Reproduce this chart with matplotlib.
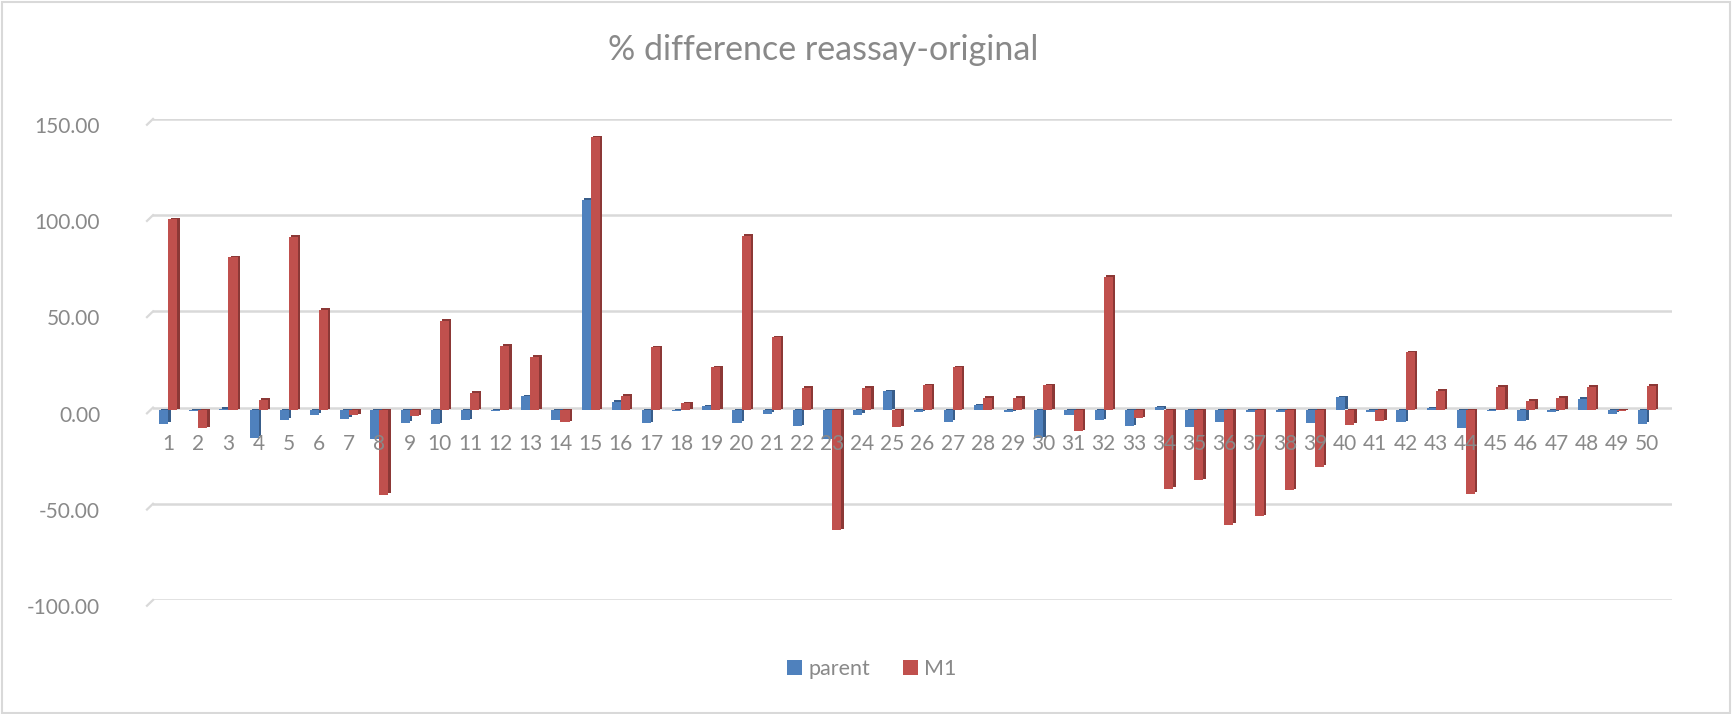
import numpy as np
import matplotlib
matplotlib.use('Agg')
import matplotlib.pyplot as plt
from matplotlib.patches import Rectangle
from matplotlib.transforms import ScaledTranslation

plt.rcParams['font.family'] = ['Lato', 'DejaVu Sans']

# Sample numbers 1..50
samples = list(range(1, 51))

# % difference reassay-original
parent = [-7, -0.5, 1, -14.3, -4.9, -2.3, -4.4, -14.9, -6.5, -7.3,
          -5.2, -0.5, 7.3, -5.2, 109.6, 4.4, -6.6, -0.5, 2.1, -6.5,
          -1.7, -8.2, -14.9, -2.3, 10, -1, -5.8, 2.6, -1, -14.5,
          -2.3, -5.2, -8.2, 1.7, -8.7, -6.1, -1, -1, -6.5, 6.8,
          -1, -6.1, 1.2, -9.1, -0.5, -5.6, -1, 6.1, -1.7, -7]
m1 = [99.4, -9.3, 79.5, 5.6, 90.4, 52.4, -2.6, -43.7, -3, 46.7,
      9.3, 33.6, 27.8, -6.1, 142, 7.5, 32.9, 3.8, 22.4, 90.9,
      38.1, 11.7, -62.2, 11.7, -8.7, 13.1, 22.4, 6.5, 6.6, 13.1,
      -10.8, 69.6, -4, -40.6, -36.2, -59.4, -55, -41.4, -29.4, -7.5,
      -5.6, 30.2, 10.3, -43.2, 12.2, 4.9, 6.5, 12.2, -0.5, 12.8]
y_ticks = [-100, -50, 0, 50, 100, 150]

grey_text = '#898989'
grid_col = '#d9d9d9'

fig = plt.figure(figsize=(17.33, 7.14), dpi=100)
ax = fig.add_axes([0.0883, 0.1597, 0.8765, 0.6737])

x = np.array(samples, dtype=float)
w = 0.30
dx, dy = 0.08, 0.8   # fake 3D depth of the side face
floor = -1.5         # bars stand slightly in front of / below the back-wall gridlines

series = [(parent, -0.15, '#4f81bd', '#385d8a', 'parent'),
          (m1, 0.15, '#c0504d', '#8c3836', 'M1')]
for vals, off, front, side, name in series:
    vals = np.array(vals)
    ax.bar(x + off + dx, vals, width=w, bottom=floor + dy, color=side, zorder=3)
    ax.bar(x + off, vals, width=w, bottom=floor, color=front, zorder=4, label=name)

ax.set_xlim(0.5, 50.83)
ax.set_ylim(-100, 150)
ax.set_yticks(y_ticks)
ax.set_yticklabels([f'{v:.2f}' for v in y_ticks])
ax.set_xticks(samples)
ax.set_xticklabels([str(s) for s in samples])

for s in ['top', 'right', 'left', 'bottom']:
    ax.spines[s].set_visible(False)
ax.spines['bottom'].set_position(('data', 0))

# gridlines behind the bars, category labels in front of them
for v in y_ticks:
    ax.axhline(v, color=grid_col, linewidth=1.8, zorder=0)
    # little floor stub on the left end of each gridline
    ax.plot([0.3, 0.5], [v - 3, v], color=grid_col, linewidth=1.6, clip_on=False, zorder=0)
ax.xaxis.set_zorder(6)

ax.tick_params(axis='y', length=0, pad=38, labelsize=15, labelcolor=grey_text)
ax.tick_params(axis='x', length=0, pad=19, labelsize=15, labelcolor=grey_text)

# y labels sit a bit below their gridlines
for lab in ax.get_yticklabels():
    lab.set_transform(lab.get_transform() + ScaledTranslation(0, -6 / 100, fig.dpi_scale_trans))

fig.text(0.475, 0.930, '% difference reassay-original', ha='center', va='center',
         fontsize=24.5, color=grey_text)

handles, labels = ax.get_legend_handles_labels()
leg = fig.legend(handles, labels, loc='center', bbox_to_anchor=(0.503, 0.063), ncol=2,
                 frameon=False, fontsize=15.5, handlelength=0.7, handleheight=0.7,
                 handletextpad=0.3, columnspacing=1.5)
for t in leg.get_texts():
    t.set_color(grey_text)

# outer chart border
fig.patches.append(Rectangle((0.001, 0.002), 0.997, 0.995, transform=fig.transFigure,
                             fill=False, edgecolor=grid_col, linewidth=1.5))

plt.savefig('out.png', dpi=100)
